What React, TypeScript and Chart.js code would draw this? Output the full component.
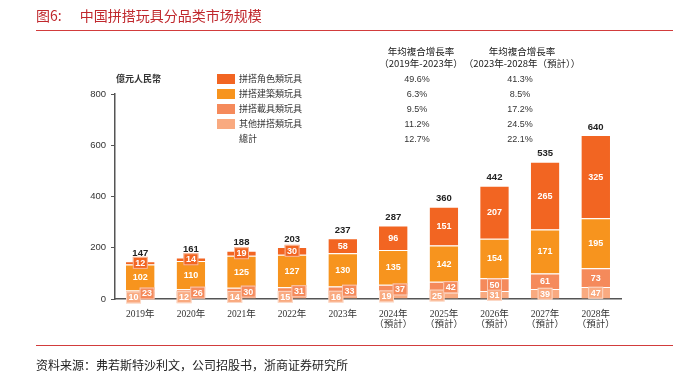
import React, { useEffect, useRef } from 'react';
import { Chart, registerables } from 'chart.js';

Chart.register(...registerables);

const years = ['2019年', '2020年', '2021年', '2022年', '2023年', '2024年', '2025年', '2026年', '2027年', '2028年'];
const forecastNote = '（預計）';
const forecastFrom = 5;

const otherToys = [10, 12, 14, 15, 16, 19, 25, 31, 39, 47];
const vehicleToys = [23, 26, 30, 31, 33, 37, 42, 50, 61, 73];
const buildingToys = [102, 110, 125, 127, 130, 135, 142, 154, 171, 195];
const characterToys = [12, 14, 19, 30, 58, 96, 151, 207, 265, 325];
const totals = [147, 161, 188, 203, 237, 287, 360, 442, 535, 640];

const legendNames = ['拼搭角色類玩具', '拼搭建築類玩具', '拼搭載具類玩具', '其他拼搭類玩具', '總計'];
const cagr2019to2023 = ['49.6%', '6.3%', '9.5%', '11.2%', '12.7%'];
const cagr2023to2028 = ['41.3%', '8.5%', '17.2%', '24.5%', '22.1%'];
const headerCol1 = ['年均複合增長率', '（2019年-2023年）'];
const headerCol2 = ['年均複合增長率', '（2023年-2028年（預計））'];

const COLORS = {
  character: '#F26522',
  building: '#F7941E',
  vehicle: '#F58A5B',
  other: '#F9AA80',
};
const legendColors = [COLORS.character, COLORS.building, COLORS.vehicle, COLORS.other, null];

const SANS = '"Liberation Sans", Arial, sans-serif';
const CJK = '"Noto Sans CJK SC", "Noto Sans CJK TC", sans-serif';

const labelPlugin = {
  id: 'segLabels',
  afterDatasetsDraw(chart: any) {
    const ctx = chart.ctx as CanvasRenderingContext2D;
    ctx.save();
    const nds = chart.data.datasets.length;
    for (let di = 0; di < nds; di++) {
      const ds = chart.data.datasets[di];
      const meta = chart.getDatasetMeta(di);
      meta.data.forEach((bar: any, i: number) => {
        const p = bar.getProps(['x', 'y', 'base', 'width'], true);
        const val = ds.data[i];
        const text = String(val);
        ctx.font = 'bold 9px ' + SANS;
        const tw = ctx.measureText(text).width;
        const bw = tw + 5;
        const bh = 12;
        const h = p.base - p.y;
        let cx = p.x;
        const cy = (p.y + p.base) / 2;
        let boxed = h < 14;
        if (i < 7 && di === 0) {
          cx = p.x - p.width / 2 + bw / 2;
          boxed = true;
        }
        if (i < 7 && di === 1) {
          cx = p.x + p.width / 2 - bw / 2;
          boxed = true;
        }
        if (boxed) {
          ctx.fillStyle = ds.backgroundColor;
          ctx.fillRect(cx - bw / 2, cy - bh / 2, bw, bh);
          ctx.strokeStyle = 'rgba(255,255,255,0.55)';
          ctx.lineWidth = 1;
          ctx.strokeRect(cx - bw / 2 + 0.5, cy - bh / 2 + 0.5, bw - 1, bh - 1);
        }
        ctx.fillStyle = '#ffffff';
        ctx.textAlign = 'center';
        ctx.textBaseline = 'middle';
        ctx.fillText(text, cx, cy + 0.5);
      });
    }
    const topMeta = chart.getDatasetMeta(nds - 1);
    topMeta.data.forEach((bar: any, i: number) => {
      const p = bar.getProps(['x', 'y'], true);
      ctx.font = 'bold 9.5px ' + SANS;
      ctx.fillStyle = '#222';
      ctx.textAlign = 'center';
      ctx.textBaseline = 'middle';
      ctx.fillText(String(totals[i]), p.x, p.y - 8);
    });
    ctx.restore();
  },
};

export default function App() {
  const ref = useRef<HTMLCanvasElement>(null);

  useEffect(() => {
    const labels = years.map((y, i) => (i >= forecastFrom ? [y, forecastNote] : y));
    const common = {
      categoryPercentage: 1,
      barPercentage: 0.565,
      borderColor: '#ffffff',
      borderWidth: { top: 1, bottom: 0, left: 0, right: 0 },
      borderSkipped: false,
    };
    const chart = new Chart(ref.current!, {
      type: 'bar',
      data: {
        labels,
        datasets: [
          { label: legendNames[3], data: otherToys, backgroundColor: COLORS.other, ...common },
          { label: legendNames[2], data: vehicleToys, backgroundColor: COLORS.vehicle, ...common },
          { label: legendNames[1], data: buildingToys, backgroundColor: COLORS.building, ...common },
          { label: legendNames[0], data: characterToys, backgroundColor: COLORS.character, ...common },
        ],
      } as any,
      options: {
        responsive: false,
        animation: false,
        devicePixelRatio: 1,
        layout: { padding: { left: 0, right: 52, top: 94, bottom: 0 } },
        plugins: {
          legend: { display: false },
          tooltip: { enabled: false },
          title: { display: false },
        },
        scales: {
          x: {
            stacked: true,
            grid: { display: false },
            border: { display: true, color: '#555', width: 1.5 },
            ticks: {
              font: { family: '"Liberation Serif", "Noto Sans CJK SC", serif', size: 9.5, lineHeight: 1.1 },
              color: '#333',
              padding: 2,
              maxRotation: 0,
              autoSkip: false,
            },
            afterFit: (s: any) => {
              s.height = 78;
            },
          },
          y: {
            stacked: true,
            min: 0,
            max: 800,
            ticks: { stepSize: 200, font: { family: SANS, size: 9.5 }, color: '#333', padding: 5 },
            grid: { drawOnChartArea: false, drawTicks: true, tickLength: 4, color: '#555' },
            border: { display: true, color: '#555', width: 1.5 },
            afterFit: (s: any) => {
              s.width = 115;
            },
          },
        },
      } as any,
      plugins: [labelPlugin],
    });
    return () => chart.destroy();
  }, []);

  const rowY = [78.5, 93.5, 108.5, 123.5, 139];

  return (
    <div style={{ position: 'absolute', left: 0, top: 0, width: 673, height: 377, background: '#fff', overflow: 'hidden' }}>
      <canvas ref={ref} width={673} height={377} style={{ position: 'absolute', left: 0, top: 0, width: 673, height: 377 }} />
      <div style={{ position: 'absolute', left: 36, top: 6, lineHeight: '18px', fontSize: 14, fontFamily: CJK, color: '#C0282D', whiteSpace: 'nowrap' }}>
        <span>图6:</span>
        <span style={{ marginLeft: 18 }}>中国拼搭玩具分品类市场规模</span>
      </div>
      <div style={{ position: 'absolute', left: 36, top: 30, width: 637, height: 1, background: '#D23C3C' }} />
      <div style={{ position: 'absolute', left: 116, top: 72, lineHeight: '14px', fontSize: 9, fontWeight: 'bold', fontFamily: CJK, color: '#333', whiteSpace: 'nowrap' }}>
        億元人民幣
      </div>
      {[headerCol1, headerCol2].map((lines, c) =>
        lines.map((t, r) => (
          <div
            key={'h' + c + r}
            style={{
              position: 'absolute',
              left: c === 0 ? 421 : 522,
              top: (r === 0 ? 51 : 62.5) - 7,
              transform: 'translateX(-50%)',
              lineHeight: '14px',
              fontSize: 9.5,
              fontFamily: CJK,
              color: '#222',
              whiteSpace: 'nowrap',
            }}
          >
            {t}
          </div>
        ))
      )}
      {legendNames.map((name, i) => (
        <React.Fragment key={'l' + i}>
          {legendColors[i] && (
            <div style={{ position: 'absolute', left: 217, top: rowY[i] - 5, width: 18, height: 10, background: legendColors[i] as string }} />
          )}
          <div style={{ position: 'absolute', left: 239, top: rowY[i] - 7, lineHeight: '14px', fontSize: 9, fontFamily: CJK, color: '#333', whiteSpace: 'nowrap' }}>
            {name}
          </div>
          <div style={{ position: 'absolute', left: 417, top: rowY[i] - 7, transform: 'translateX(-50%)', lineHeight: '14px', fontSize: 9, fontFamily: SANS, color: '#333', whiteSpace: 'nowrap' }}>
            {cagr2019to2023[i]}
          </div>
          <div style={{ position: 'absolute', left: 520, top: rowY[i] - 7, transform: 'translateX(-50%)', lineHeight: '14px', fontSize: 9, fontFamily: SANS, color: '#333', whiteSpace: 'nowrap' }}>
            {cagr2023to2028[i]}
          </div>
        </React.Fragment>
      ))}
      <div style={{ position: 'absolute', left: 36, top: 345, width: 637, height: 1, background: '#D23C3C' }} />
      <div style={{ position: 'absolute', left: 36, top: 356, lineHeight: '18px', fontSize: 12, fontFamily: CJK, color: '#222', whiteSpace: 'nowrap' }}>
        资料来源：弗若斯特沙利文，公司招股书，浙商证券研究所
      </div>
    </div>
  );
}
